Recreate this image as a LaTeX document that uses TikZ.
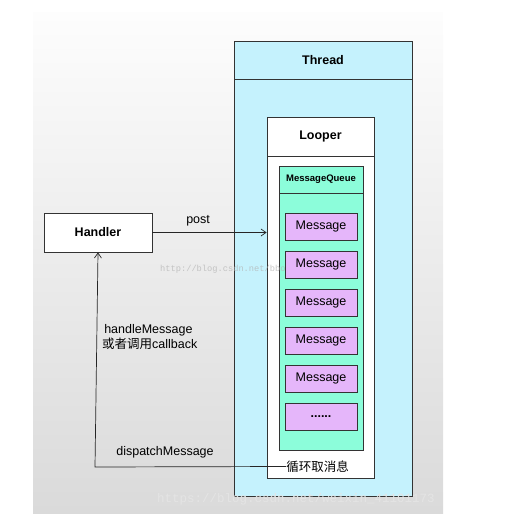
\documentclass[tikz,border=0pt]{standalone}
\usepackage{fontspec}
\setmainfont{Liberation Sans}
\newfontfamily\cjk{Noto Sans CJK SC}
\newfontfamily\wmfont{Liberation Mono}
\usetikzlibrary{arrows.meta}
\definecolor{threadcyan}{RGB}{197,242,253}
\definecolor{queuegreen}{RGB}{140,253,218}
\definecolor{msgpurple}{RGB}{229,182,250}
\definecolor{bgtop}{RGB}{253,253,253}
\definecolor{bgbottom}{RGB}{218,218,218}
\definecolor{markgray}{RGB}{228,228,228}
\begin{document}
\begin{tikzpicture}[x=1pt,y=-1pt,
  box/.style={draw=black!80, line width=0.8pt, inner sep=0pt},
  msg/.style={box, fill=msgpurple, minimum width=72pt, minimum height=27pt,
    font=\fontsize{12.5}{14}\selectfont},
  conn/.style={draw=black!85, line width=0.7pt},
  lbl/.style={font=\fontsize{12.5}{15}\selectfont, inner sep=0pt}]
\useasboundingbox (0,0) rectangle (506,527);
\shade[top color=bgtop, bottom color=bgbottom] (33,13) rectangle (443,513);
% thread with looper and queue
\node[box, fill=threadcyan, minimum width=178pt, minimum height=455pt] (thread) at (323,268.5) {};
\node[box, fill=threadcyan, minimum width=178pt, minimum height=38pt, font=\bfseries\fontsize{12.5}{14}\selectfont] (threadhead) at (323,60) {Thread};
\node[box, fill=white, minimum width=107pt, minimum height=361pt] (looper) at (320.5,297.5) {};
\node[box, fill=white, minimum width=107pt, minimum height=39pt, font=\bfseries\fontsize{12.5}{14}\selectfont] (looperhead) at (320.5,136.5) {Looper};
\node[box, fill=queuegreen, minimum width=84pt, minimum height=284pt] (queue) at (321,308) {};
\node[box, fill=queuegreen, minimum width=84pt, minimum height=27pt, font=\bfseries\fontsize{9.5}{11}\selectfont] (queuehead) at (321,179.5) {MessageQueue};
% watermark under the messages
\node[font=\wmfont\fontsize{8.7}{10}\selectfont, text=black!30, opacity=0.7, anchor=west, inner sep=0pt] (mark1) at (160,269) {http://blog.csdn.net/bboyfeiyu};
\foreach \i/\t in {0/Message,1/Message,2/Message,3/Message,4/Message,5/{\bfseries......}}
  \node[msg] (msg\i) at (321,226.5+38*\i) {\t};
\node[lbl, font=\cjk\fontsize{12.5}{15}\selectfont] (fetch) at (317.5,466.5) {循环取消息};
% handler and connectors
\node[box, fill=white, minimum width=108pt, minimum height=39pt, font=\bfseries\fontsize{12.5}{14}\selectfont] (handler) at (98,232.5) {Handler};
\draw[conn, -{Straight Barb[length=5pt,width=7pt]}] (handler.east) -- (looper.west |- handler.east)
  node[lbl, pos=0.4, above=6pt] (post) {post};
\coordinate (turn) at (95,467);
\draw[conn, -{Straight Barb[length=5pt,width=7pt]}] (fetch.west) -- (turn) -- (handler.south);
\node[lbl, anchor=west, align=left] (handle) at (102,336.5) {\,handleMessage\\{\cjk 或者调用}callback};
\node[lbl] (dispatch) at (165,452) {dispatchMessage};
\node[font=\wmfont\fontsize{12.5}{14}\selectfont, text=markgray, anchor=west, inner sep=0pt] (mark2) at (157,499) {https://blog.csdn.net/weixin\_41101173};
\end{tikzpicture}
\end{document}
